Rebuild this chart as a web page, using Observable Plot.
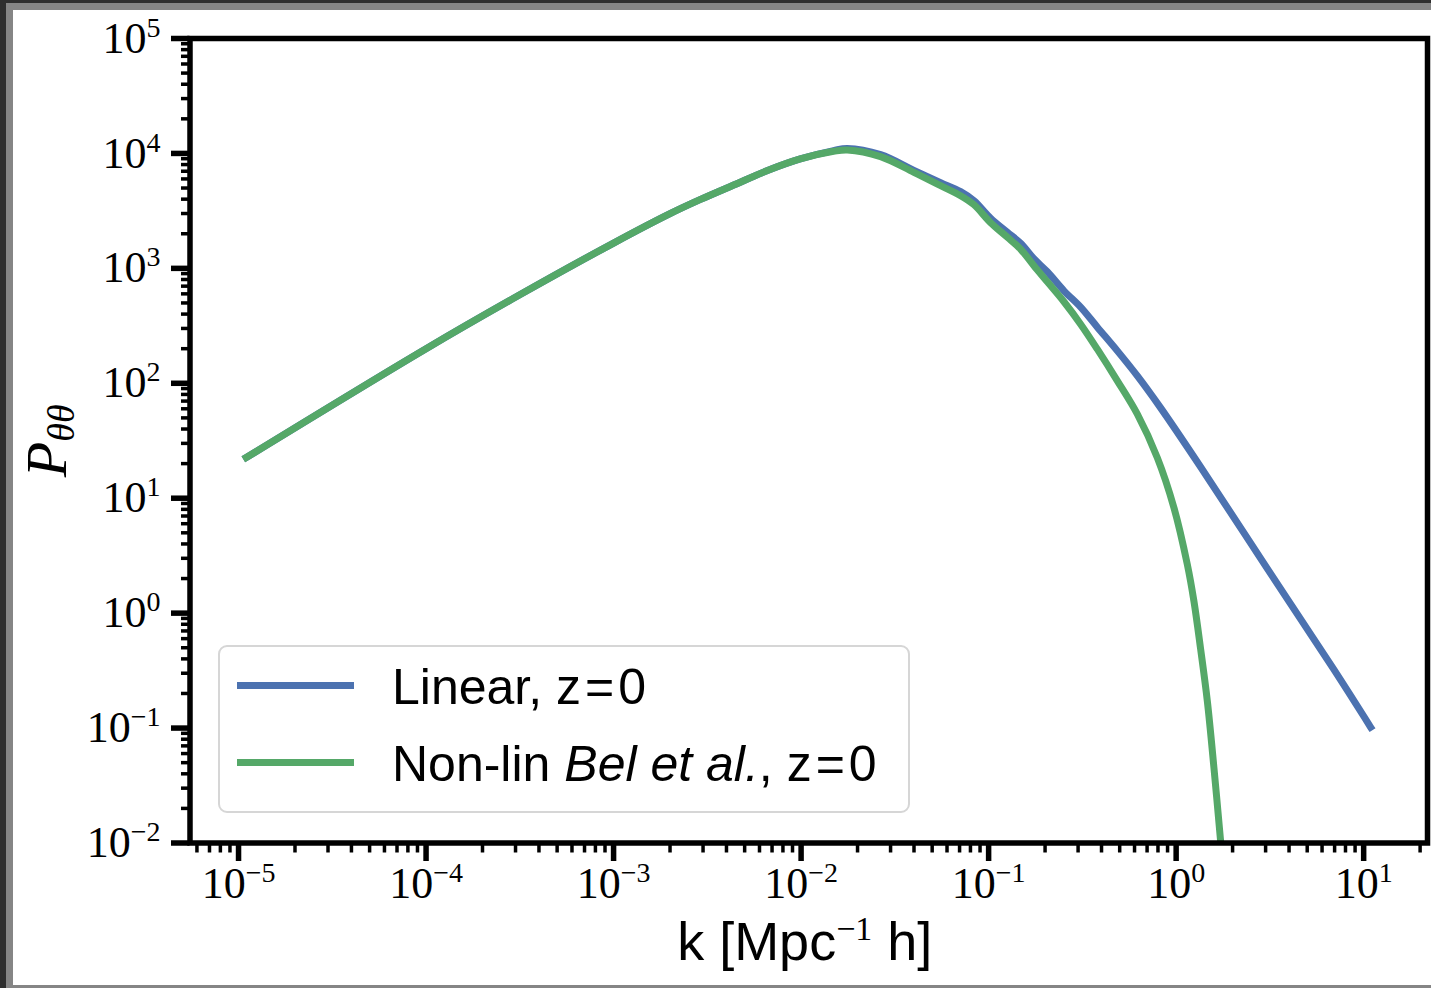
<!DOCTYPE html>
<html>
<head>
<meta charset="utf-8">
<script src="https://cdn.jsdelivr.net/npm/d3@7"></script>
<script src="https://cdn.jsdelivr.net/npm/@observablehq/plot@0.6"></script>
<style>
  html, body { margin: 0; padding: 0; overflow: hidden; background: #2e2e2e; }
  #c1 { position: absolute; left: 0; top: 0; width: 1431px; height: 988px; background: #2e2e2e; }
  #c2 { position: absolute; left: 6px; top: 3px; width: 1425px; height: 985px; background: #858585; }
  #c3 { position: absolute; left: 13px; top: 10px; width: 1418px; height: 975px; background: #ffffff; }
  #chart { position: absolute; left: 0; top: 0; width: 1431px; height: 988px; }
  #legend { position: absolute; left: 218px; top: 645px; width: 692px; height: 168px; box-sizing: border-box;
            border: 2px solid #d6d6d6; border-radius: 9px; background: rgba(255,255,255,0.85);
            font-family: "Liberation Sans", Arial, sans-serif; font-size: 50px; color: #000; }
  #legend .sw { position: absolute; left: 17px; width: 117px; height: 7px; }
  #legend .lab { position: absolute; left: 172px; line-height: 50px; white-space: nowrap; }
  #legend .eq { margin: 0 4px; }
</style>
</head>
<body>
<div id="c1"></div><div id="c2"></div><div id="c3"></div>
<div id="chart"></div>
<div id="legend">
  <div class="sw" style="top:35px;background:#4C72B0"></div>
  <div class="lab" style="top:15px">Linear, z<span class="eq">=</span>0</div>
  <div class="sw" style="top:112px;background:#55A868"></div>
  <div class="lab" style="top:92px">Non-lin <i>Bel et al.</i>, z<span class="eq">=</span>0</div>
</div>
<script>
// ---- data ----
const kLin = [1.1e-5, 1e-4, 3.16e-4, 1e-3, 2e-3, 2.91e-3, 4.37e-3, 6.62e-3, 0.0099, 0.0149, 0.01764, 0.02655, 0.03995, 0.05546, 0.0709, 0.08349, 0.1025, 0.1258, 0.1482, 0.1744, 0.2056, 0.2522, 0.3095, 0.380, 0.4858, 0.6211, 0.8266, 1.351, 3.076, 6.918, 10.9];
const pLin = [22.6, 200, 589, 1660, 2992, 3981, 5309, 7100, 8954, 10578, 11056, 9761, 7126, 5567, 4648, 3880, 2732, 2063, 1654, 1212, 934, 638, 460, 308, 191.5, 116, 61.1, 18.7, 2.416, 0.3253, 0.1016];

const kNl = [1.1e-5, 1e-4, 3.16e-4, 1e-3, 2e-3, 2.91e-3, 4.37e-3, 6.62e-3, 0.0099, 0.0149, 0.01764, 0.02655, 0.03995, 0.05546, 0.0709, 0.08349, 0.1025, 0.1258, 0.1482, 0.1744, 0.2056, 0.2522, 0.3095, 0.380, 0.4858, 0.6211, 0.7937, 0.9734, 1.147, 1.244, 1.351, 1.467, 1.591, 1.727, 1.814];
const pNl = [22.6, 200, 589, 1660, 2992, 3981, 5309, 7100, 8954, 10430, 10728, 9378, 6846, 5243, 4290, 3581, 2496, 1866, 1467, 1053, 764, 512, 327, 198, 105, 53.8, 22.5, 8.27, 2.656, 1.272, 0.486, 0.1712, 0.04492, 0.01033, 0.00419];

const seriesNames = ["Linear, z=0", "Non-lin Bel et al., z=0"];
const xDomain = [5.51e-6, 21.9];
const yDomain = [1e-2, 1e5];
const xTicks = [1e-5, 1e-4, 1e-3, 1e-2, 1e-1, 1, 10];
const xTickLabels = ["10^{−5}", "10^{−4}", "10^{−3}", "10^{−2}", "10^{−1}", "10^{0}", "10^{1}"];
const yTicks = [1e-2, 1e-1, 1, 10, 100, 1e3, 1e4, 1e5];
const yTickLabels = ["10^{−2}", "10^{−1}", "10^{0}", "10^{1}", "10^{2}", "10^{3}", "10^{4}", "10^{5}"];
const xLabel = "k [Mpc^{−1} h]";
const yLabel = "P_{θθ}";

// minor ticks (2..9 × each decade inside the domain)
function minors(dom, e0, e1) {
  const out = [];
  for (let e = e0; e <= e1; e++) for (let m = 2; m <= 9; m++) {
    const v = m * Math.pow(10, e);
    if (v >= dom[0] && v <= dom[1]) out.push(v);
  }
  return out;
}
const xMinor = minors(xDomain, -6, 1);
const yMinor = minors(yDomain, -2, 4);

const lin = kLin.map((k, i) => ({k, p: pLin[i]}));
const nl = kNl.map((k, i) => ({k, p: pNl[i]}));
const xLab = new Map(xTicks.map((v, i) => [v, xTickLabels[i]]));
const yLab = new Map(yTicks.map((v, i) => [v, yTickLabels[i]]));

const svg = Plot.plot({
  width: 1431,
  height: 988,
  marginLeft: 189.5,
  marginRight: 4,
  marginTop: 38,
  marginBottom: 145.5,
  x: {type: "log", domain: xDomain},
  y: {type: "log", domain: yDomain},
  style: {background: "transparent", fontFamily: "'Liberation Serif', serif", fontSize: "44px", color: "black", overflow: "visible"},
  marks: [
    Plot.line(lin, {x: "k", y: "p", stroke: "#4C72B0", strokeWidth: 7, curve: "catmull-rom", clip: true, strokeLinecap: "square", strokeLinejoin: "round"}),
    Plot.line(nl, {x: "k", y: "p", stroke: "#55A868", strokeWidth: 7, curve: "catmull-rom", clip: true, strokeLinecap: "square", strokeLinejoin: "round"}),
    Plot.axisX({ticks: xMinor, tickSize: 10, tickFormat: () => "", strokeWidth: 3.5, label: null, anchor: "bottom"}),
    Plot.axisX({ticks: xTicks, tickSize: 18.5, tickPadding: 5, tickFormat: d => xLab.get(d), strokeWidth: 5.5, label: null, anchor: "bottom", fontSize: 44}),
    Plot.axisY({ticks: yMinor, tickSize: 8.5, tickFormat: () => "", strokeWidth: 3.5, label: null, anchor: "left"}),
    Plot.axisY({ticks: yTicks, tickSize: 18.5, tickPadding: 11, tickFormat: d => yLab.get(d), strokeWidth: 5.5, label: null, anchor: "left", fontSize: 44}),
    Plot.frame({stroke: "black", strokeWidth: 5.5}),
    Plot.text([xLabel], {frameAnchor: "bottom", dx: -4, dy: 100, lineAnchor: "middle", textAnchor: "middle", fontSize: 54, fontFamily: "'Liberation Sans', Arial, sans-serif"}),
    Plot.text([yLabel], {frameAnchor: "left", dx: -143, rotate: -90, lineAnchor: "middle", textAnchor: "middle", fontSize: 58, fontStyle: "italic", fontFamily: "'Liberation Serif', serif"})
  ]
});

// rich text: ^{...} superscripts and _{...} subscripts as tspans
const NS = "http://www.w3.org/2000/svg";
function rich(el, o) {
  const s = el.textContent;
  if (!/[\^_]\{/.test(s)) return;
  el.textContent = "";
  let cur = 0, last = 0, m;
  const re = /([\^_])\{([^}]*)\}/g;
  function add(text, target, attrs) {
    if (!text) return;
    const t = document.createElementNS(NS, "tspan");
    const d = target - cur;
    if (d) t.setAttribute("dy", d);
    cur = target;
    for (const a in attrs) if (attrs[a] != null) t.setAttribute(a, attrs[a]);
    t.textContent = text;
    el.appendChild(t);
  }
  while ((m = re.exec(s))) {
    add(s.slice(last, m.index), 0, {});
    if (m[1] === "^") add(m[2], -o.supShift, {"font-size": o.supSize, "font-family": o.supFont});
    else add(m[2], o.subShift, {"font-size": o.subSize});
    last = re.lastIndex;
  }
  add(s.slice(last), 0, {});
}
svg.querySelectorAll("text").forEach(el => {
  const s = el.textContent;
  if (s === xLabel) rich(el, {supShift: 20, supSize: 34, supFont: "'Liberation Serif', serif"});
  else if (s === yLabel) rich(el, {subShift: 8, subSize: 38});
  else rich(el, {supShift: 16, supSize: 28});
});

document.getElementById("chart").appendChild(svg);
</script>
</body>
</html>
